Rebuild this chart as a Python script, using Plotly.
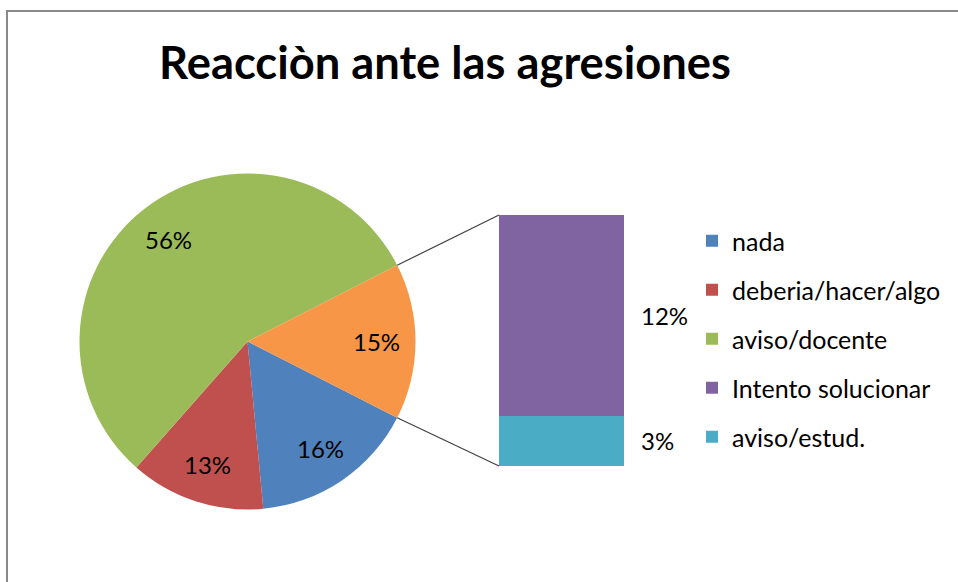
import math
import plotly.graph_objects as go

# ---- data ----
pie_labels = ["nada", "deberia/hacer/algo", "aviso/docente", "Otros"]
pie_values = [16, 13, 56, 15]
pie_colors = ["#4F81BD", "#C0504D", "#9BBB59", "#F79646"]

bar_labels = ["aviso/estud.", "Intento solucionar"]
bar_values = [3, 12]
bar_colors = ["#4BACC6", "#8064A2"]

legend_labels = ["nada", "deberia/hacer/algo", "aviso/docente", "Intento solucionar", "aviso/estud."]
legend_colors = ["#4F81BD", "#C0504D", "#9BBB59", "#8064A2", "#4BACC6"]

title_text = "Reacciòn ante las agresiones"

# ---- layout geometry (pixels) ----
W, H = 958, 582
FONT = "Lato, Open Sans, sans-serif"
cx, cy, r = 247.5, 341.5, 168.0          # pie centre (from top) and radius
bar_x0, bar_x1, bar_top, bar_bot = 499, 624, 215, 466

total = sum(pie_values)
other = pie_values[-1]
rotation = 90 + other / total * 180     # centre the "other" slice at 3 o'clock

pie_domain_x = [(cx - r) / W, (cx + r) / W]
pie_domain_y = [(H - cy - r) / H, (H - cy + r) / H]

fig = go.Figure()
fig.add_trace(go.Pie(
    labels=pie_labels, values=pie_values, sort=False, direction="clockwise",
    rotation=rotation, marker=dict(colors=pie_colors, line=dict(width=0)),
    textinfo="none", hoverinfo="label+percent", showlegend=False,
    domain=dict(x=pie_domain_x, y=pie_domain_y),
))

for lab, val, col in zip(bar_labels, bar_values, bar_colors):
    fig.add_trace(go.Bar(x=[0], y=[val], name=lab, marker=dict(color=col, line=dict(width=0)),
                         width=1, showlegend=False, xaxis="x", yaxis="y"))

for i, (lab, col) in enumerate(zip(legend_labels, legend_colors)):
    fig.add_trace(go.Scatter(x=[None], y=[None], mode="markers", name=lab,
                             marker=dict(symbol="square", size=12, color=col),
                             legendgroup="g%d" % i, showlegend=True))

annotations = []
# pie percentage labels along each slice bisector
start = rotation
for val in pie_values:
    span = val / total * 360
    mid = math.radians(start + span / 2)
    px = cx + 0.77 * r * math.sin(mid)
    py = (H - cy) + 0.77 * r * math.cos(mid)
    annotations.append(dict(x=px / W, y=py / H, xref="paper", yref="paper",
                            xanchor="center", yanchor="middle",
                            text="%d%%" % round(val / total * 100), showarrow=False,
                            font=dict(family=FONT, size=24, color="#000000")))
    start += span

# bar labels
cum = 0
for val in bar_values:
    annotations.append(dict(x=0.5, y=cum + val / 2, xref="x", yref="y", xanchor="left",
                            yanchor="middle", xshift=15,
                            text="%d%%" % round(val / total * 100), showarrow=False,
                            font=dict(family=FONT, size=24, color="#000000")))
    cum += val

# connector lines from the "other" slice edges to the bar corners
shapes = []
theta_top = math.radians(rotation - other / total * 360)
theta_bot = math.radians(rotation)
for th, by in ((theta_top, bar_top), (theta_bot, bar_bot)):
    shapes.append(dict(type="line", xref="paper", yref="paper",
                       x0=(cx + r * math.sin(th)) / W, y0=((H - cy) + r * math.cos(th)) / H,
                       x1=bar_x0 / W, y1=(H - by) / H,
                       line=dict(color="#404040", width=1.2)))
# chart border
shapes.append(dict(type="rect", xref="paper", yref="paper", x0=7 / W, y0=-0.05, x1=1.05, y1=(H - 11) / H,
                   line=dict(color="#8a8a8a", width=2)))

fig.update_layout(
    width=W, height=H, margin=dict(l=0, r=0, t=0, b=0),
    paper_bgcolor="white", plot_bgcolor="white",
    title=dict(text="<b>%s</b>" % title_text, x=445 / W, xanchor="center", y=1 - 63 / H,
               yanchor="middle", font=dict(family=FONT, size=45.3, color="#000000")),
    xaxis=dict(domain=[bar_x0 / W, bar_x1 / W], range=[-0.5, 0.5], visible=False, fixedrange=True),
    yaxis=dict(domain=[(H - bar_bot) / H, (H - bar_top) / H], range=[0, sum(bar_values)],
               visible=False, fixedrange=True),
    barmode="stack", bargap=0,
    legend=dict(x=692 / W, y=(H - 218) / H, xanchor="left", yanchor="top",
                font=dict(family=FONT, size=25, color="#000000"), tracegroupgap=13.5,
                bgcolor="rgba(0,0,0,0)", itemsizing="constant"),
    annotations=annotations, shapes=shapes,
)

fig.write_html("out.html", config={"displayModeBar": False},
               post_script="document.body.style.margin='0';document.body.style.overflow='hidden';")
